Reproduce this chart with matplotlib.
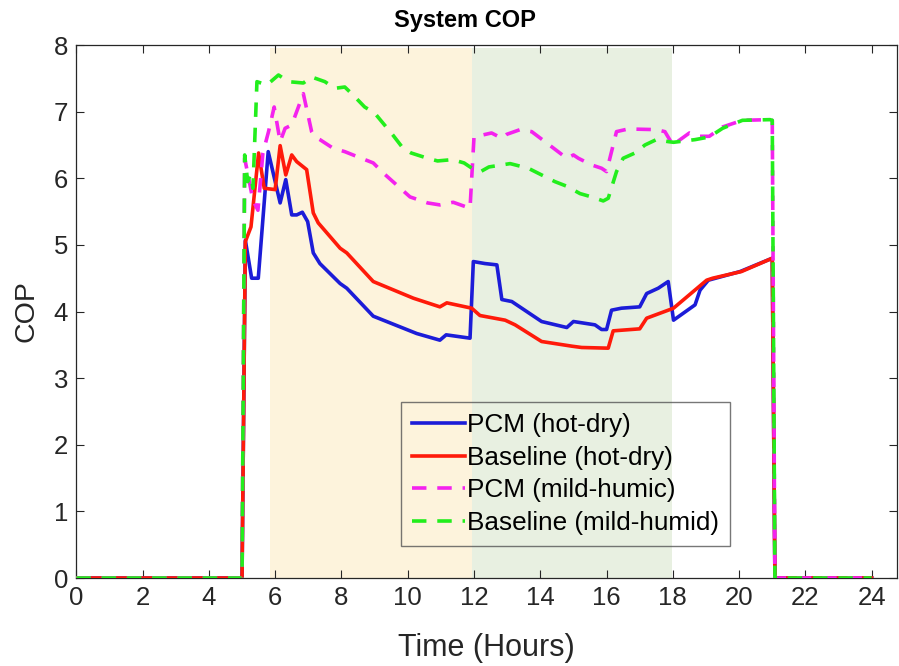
import matplotlib
matplotlib.use("Agg")
import matplotlib.pyplot as plt

plt.rcParams['font.family'] = ['Liberation Sans', 'DejaVu Sans']

# hourly COP profiles, read at the breakpoints of each curve
t_pcm_hot = [0, 5.0, 5.1, 5.29, 5.49, 5.79, 6.15, 6.32, 6.5, 6.65, 6.82, 6.98, 7.15, 7.35,
             7.96, 8.16, 8.96, 10.27, 10.97, 11.16, 11.88, 11.98, 12.33, 12.69, 12.84, 13.14,
             14.04, 14.8, 15.0, 15.65, 15.85, 16.0, 16.15, 16.45, 17.0, 17.21, 17.56, 17.86,
             18.02, 18.67, 18.82, 19.07, 20.03, 21.0, 21.08, 24]
cop_pcm_hot = [0, 0, 5.07, 4.5, 4.5, 6.4, 5.63, 5.98, 5.45, 5.45, 5.49, 5.35, 4.88, 4.72,
               4.42, 4.35, 3.93, 3.67, 3.57, 3.65, 3.6, 4.75, 4.72, 4.7, 4.18, 4.15,
               3.85, 3.76, 3.85, 3.8, 3.73, 3.73, 4.02, 4.05, 4.07, 4.27, 4.35, 4.45,
               3.87, 4.1, 4.32, 4.47, 4.6, 4.8, 0, 0]

t_base_hot = [0, 5.0, 5.1, 5.27, 5.5, 5.67, 6.0, 6.15, 6.32, 6.5, 6.65, 6.95, 7.15, 7.3,
              7.96, 8.16, 8.96, 10.17, 10.97, 11.18, 11.93, 12.18, 12.94, 13.24, 14.04,
              14.95, 15.25, 16.05, 16.2, 17.0, 17.21, 17.86, 18.02, 19.02, 19.2, 20.07,
              21.0, 21.08, 24]
cop_base_hot = [0, 0, 5.05, 5.27, 6.38, 5.85, 5.83, 6.49, 6.05, 6.35, 6.25, 6.13, 5.48, 5.33,
                4.95, 4.88, 4.45, 4.2, 4.07, 4.13, 4.05, 3.94, 3.87, 3.8, 3.55,
                3.48, 3.46, 3.45, 3.71, 3.74, 3.9, 4.02, 4.05, 4.47, 4.5, 4.6,
                4.8, 0, 0]

t_pcm_mild = [0, 5.0, 5.08, 5.2, 5.33, 5.48, 5.63, 5.8, 5.97, 6.15, 6.3, 6.5, 6.85, 7.1,
              7.2, 7.35, 7.75, 8.1, 8.5, 8.96, 9.26, 10.07, 10.6, 10.97, 11.37, 11.88, 12.0,
              12.53, 12.84, 12.99, 13.39, 13.74, 14.14, 14.8, 15.0, 15.15, 15.55, 15.85,
              16.0, 16.3, 16.65, 17.5, 17.76, 18.0, 18.5, 18.8, 19.1, 19.5, 20.1, 20.93,
              21.0, 21.08, 24]
cop_pcm_mild = [0, 0, 6.3, 6.0, 5.67, 5.52, 6.38, 6.7, 7.07, 6.55, 6.75, 6.8, 7.27, 6.7,
                6.62, 6.58, 6.45, 6.4, 6.32, 6.23, 6.08, 5.72, 5.63, 5.6, 5.64, 5.55, 6.62,
                6.68, 6.6, 6.66, 6.73, 6.7, 6.55, 6.3, 6.35, 6.3, 6.2, 6.15,
                6.1, 6.7, 6.74, 6.73, 6.7, 6.5, 6.68, 6.63, 6.63, 6.77, 6.87, 6.88,
                6.87, 0, 0]

t_base_mild = [0, 5.0, 5.08, 5.17, 5.25, 5.33, 5.45, 5.75, 6.1, 6.4, 6.85, 7.1, 7.5, 7.8,
               8.1, 8.35, 8.7, 9.0, 9.3, 9.55, 9.86, 10.1, 10.6, 10.9, 11.35, 11.7, 12.0,
               12.2, 12.45, 13.09, 13.64, 14.04, 14.44, 14.8, 15.2, 15.55, 15.9, 16.05,
               16.3, 16.5, 16.86, 17.16, 17.5, 17.86, 18.02, 18.67, 19.1, 19.5, 20.1,
               20.93, 21.0, 21.08, 24]
cop_base_mild = [0, 0, 6.35, 5.95, 6.05, 5.85, 7.45, 7.4, 7.55, 7.45, 7.43, 7.52, 7.45, 7.35,
                 7.37, 7.25, 7.07, 6.98, 6.8, 6.65, 6.45, 6.38, 6.3, 6.26, 6.28, 6.23, 6.13,
                 6.1, 6.17, 6.22, 6.15, 6.05, 5.95, 5.88, 5.77, 5.72, 5.66, 5.7,
                 6.1, 6.3, 6.38, 6.5, 6.58, 6.55, 6.54, 6.58, 6.62, 6.75, 6.87,
                 6.88, 6.87, 0, 0]

morning_band = (5.85, 11.93)
afternoon_band = (11.95, 17.97)

fig = plt.figure(figsize=(8.99, 6.66), dpi=100)
ax = fig.add_axes([0.0849, 0.1321, 0.9131, 0.8003])

ax.fill_between(morning_band, 0, 7.95, color='#fdf3dc', lw=0, zorder=0)
ax.fill_between(afternoon_band, 0, 7.95, color='#e8f0e1', lw=0, zorder=0)

lw = 2.6
ax.plot(t_pcm_hot, cop_pcm_hot, color='#1c1cd8', lw=lw, label='PCM (hot-dry)', zorder=3)
ax.plot(t_base_hot, cop_base_hot, color='#ff1a0a', lw=lw, label='Baseline (hot-dry)', zorder=3)
ax.plot(t_pcm_mild, cop_pcm_mild, color='#f422ee', lw=lw, ls=(0, (4, 3)),
        label='PCM (mild-humic)', zorder=4)
ax.plot(t_base_mild, cop_base_mild, color='#22ee1c', lw=lw, ls=(0, (4, 3)),
        label='Baseline (mild-humid)', zorder=4)

ax.set_xlim(0, 24.77)
ax.set_ylim(0, 8)
ax.set_xticks(range(0, 25, 2))
ax.set_yticks(range(0, 9))
ax.tick_params(direction='in', length=6, width=0.8, top=True, right=True,
               labelsize=18.5, colors='#262626', pad=6)
for s in ax.spines.values():
    s.set_color('#262626')
    s.set_linewidth(0.9)

ax.set_xlabel('Time (Hours)', fontsize=22, color='#262626', labelpad=16)
ax.set_ylabel('COP', fontsize=20.5, color='#262626', labelpad=10)
ax.set_title('System COP', fontsize=17, fontweight='bold', pad=13, x=0.473)

leg = ax.legend(loc='lower left', bbox_to_anchor=(0.396, 0.06), fontsize=18.8,
                frameon=True, fancybox=False, handlelength=2.0, handletextpad=0.1,
                labelspacing=0.33, borderpad=0.42, borderaxespad=0)
leg.get_frame().set_facecolor('none')
leg.get_frame().set_edgecolor('#555555')
leg.get_frame().set_linewidth(1.0)
leg.set_zorder(5)

fig.savefig('out.png', dpi=100)
